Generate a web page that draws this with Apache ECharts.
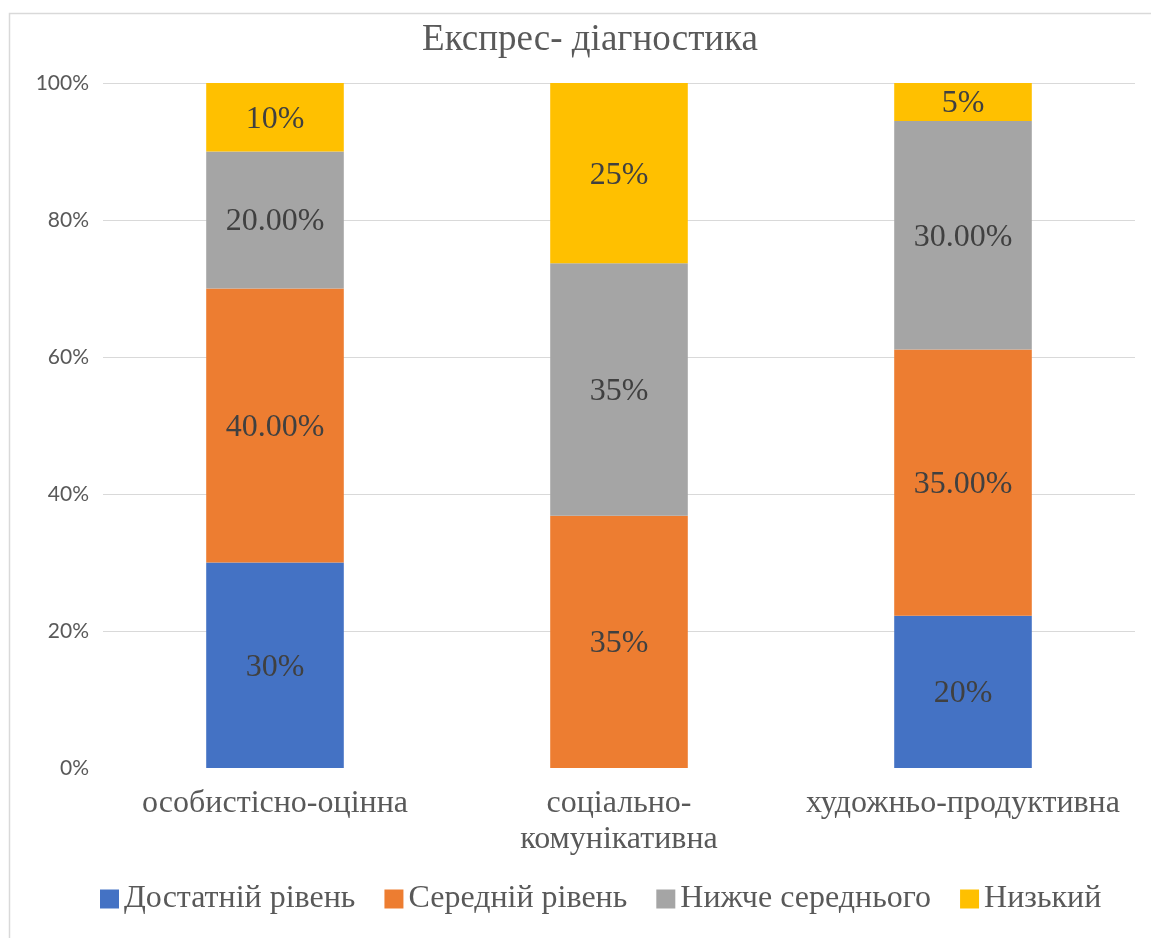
<!DOCTYPE html>
<html>
<head>
<meta charset="utf-8">
<script src="https://cdn.jsdelivr.net/npm/echarts@6/dist/echarts.min.js"></script>
<style>
  html, body { margin: 0; padding: 0; background: #ffffff; }
  #chart { width: 1151px; height: 938px; }
</style>
</head>
<body>
<div id="chart"></div>
<script>
// Categories (the middle one wraps onto two lines)
const categories = ['особистісно-оцінна', 'соціально-\nкомунікативна', 'художньо-продуктивна'];

// Series names
const seriesNames = ['Достатній рівень', 'Середній рівень', 'Нижче середнього', 'Низький'];

// Values per series, in percent, one entry per category
const dostatniy = [30, 0, 20];
const seredniy = [40, 35, 35];
const nyzhche = [20, 35, 30];
const nyzkyi = [10, 25, 5];

// Number of decimals shown in each data label
const dostatniyDec = [0, 0, 0];
const seredniyDec = [2, 0, 2];
const nyzhcheDec = [2, 0, 2];
const nyzkyiDec = [0, 0, 0];

// Y axis tick labels
const yTicks = [0, 20, 40, 60, 80, 100];

const colors = ['#4472C4', '#ED7D31', '#A5A5A5', '#FFC000'];
const allValues = [dostatniy, seredniy, nyzhche, nyzkyi];
const allDec = [dostatniyDec, seredniyDec, nyzhcheDec, nyzkyiDec];

// Column totals for the 100% stacking
const totals = categories.map((_, i) => allValues.reduce((s, arr) => s + arr[i], 0));

const serif = '"Liberation Serif", "Times New Roman", serif';

const series = seriesNames.map((name, si) => ({
  name: name,
  type: 'bar',
  stack: 'total',
  barWidth: '40%',
  itemStyle: { color: colors[si] },
  data: allValues[si].map((v, i) => (v === 0 ? null : v / totals[i] * 100)),
  label: {
    show: true,
    position: 'inside',
    offset: [0, 2],
    fontFamily: serif,
    fontSize: 32,
    color: '#404040',
    formatter: (p) => allValues[si][p.dataIndex].toFixed(allDec[si][p.dataIndex]) + '%'
  }
}));

const chart = echarts.init(document.getElementById('chart'), null, { renderer: 'canvas' });
chart.setOption({
  animation: false,
  backgroundColor: '#ffffff',
  graphic: [{
    type: 'rect',
    shape: { x: 9.5, y: 13.5, width: 1300, height: 1100 },
    style: { fill: 'none', stroke: '#d9d9d9', lineWidth: 1.5 },
    silent: true,
    z: -10
  }],
  title: {
    text: 'Експрес- діагностика',
    left: 585,
    textAlign: 'center',
    top: 17,
    textStyle: { fontFamily: serif, fontSize: 37, fontWeight: 'normal', color: '#595959' }
  },
  legend: {
    data: seriesNames,
    left: 100,
    top: 883,
    padding: 0,
    icon: 'rect',
    itemWidth: 19,
    itemHeight: 19,
    itemGap: 29,
    textStyle: { fontFamily: serif, fontSize: 32, color: '#595959' }
  },
  grid: { left: 103, right: 16, top: 83, bottom: 170, containLabel: false },
  xAxis: {
    type: 'category',
    data: categories,
    axisLine: { show: false },
    axisTick: { show: false },
    axisLabel: {
      fontFamily: serif,
      fontSize: 32,
      lineHeight: 36,
      color: '#595959',
      margin: 18,
      interval: 0
    }
  },
  yAxis: {
    type: 'value',
    min: yTicks[0],
    max: yTicks[yTicks.length - 1],
    interval: yTicks[1] - yTicks[0],
    axisLine: { show: false },
    axisTick: { show: false },
    splitLine: { show: true, showMinLine: false, lineStyle: { color: '#d9d9d9', width: 1 } },
    axisLabel: {
      fontFamily: 'Lato, "Liberation Sans", sans-serif',
      fontSize: 21,
      color: '#595959',
      margin: 14,
      formatter: (v) => v + '%'
    }
  },
  series: series
});
</script>
</body>
</html>
